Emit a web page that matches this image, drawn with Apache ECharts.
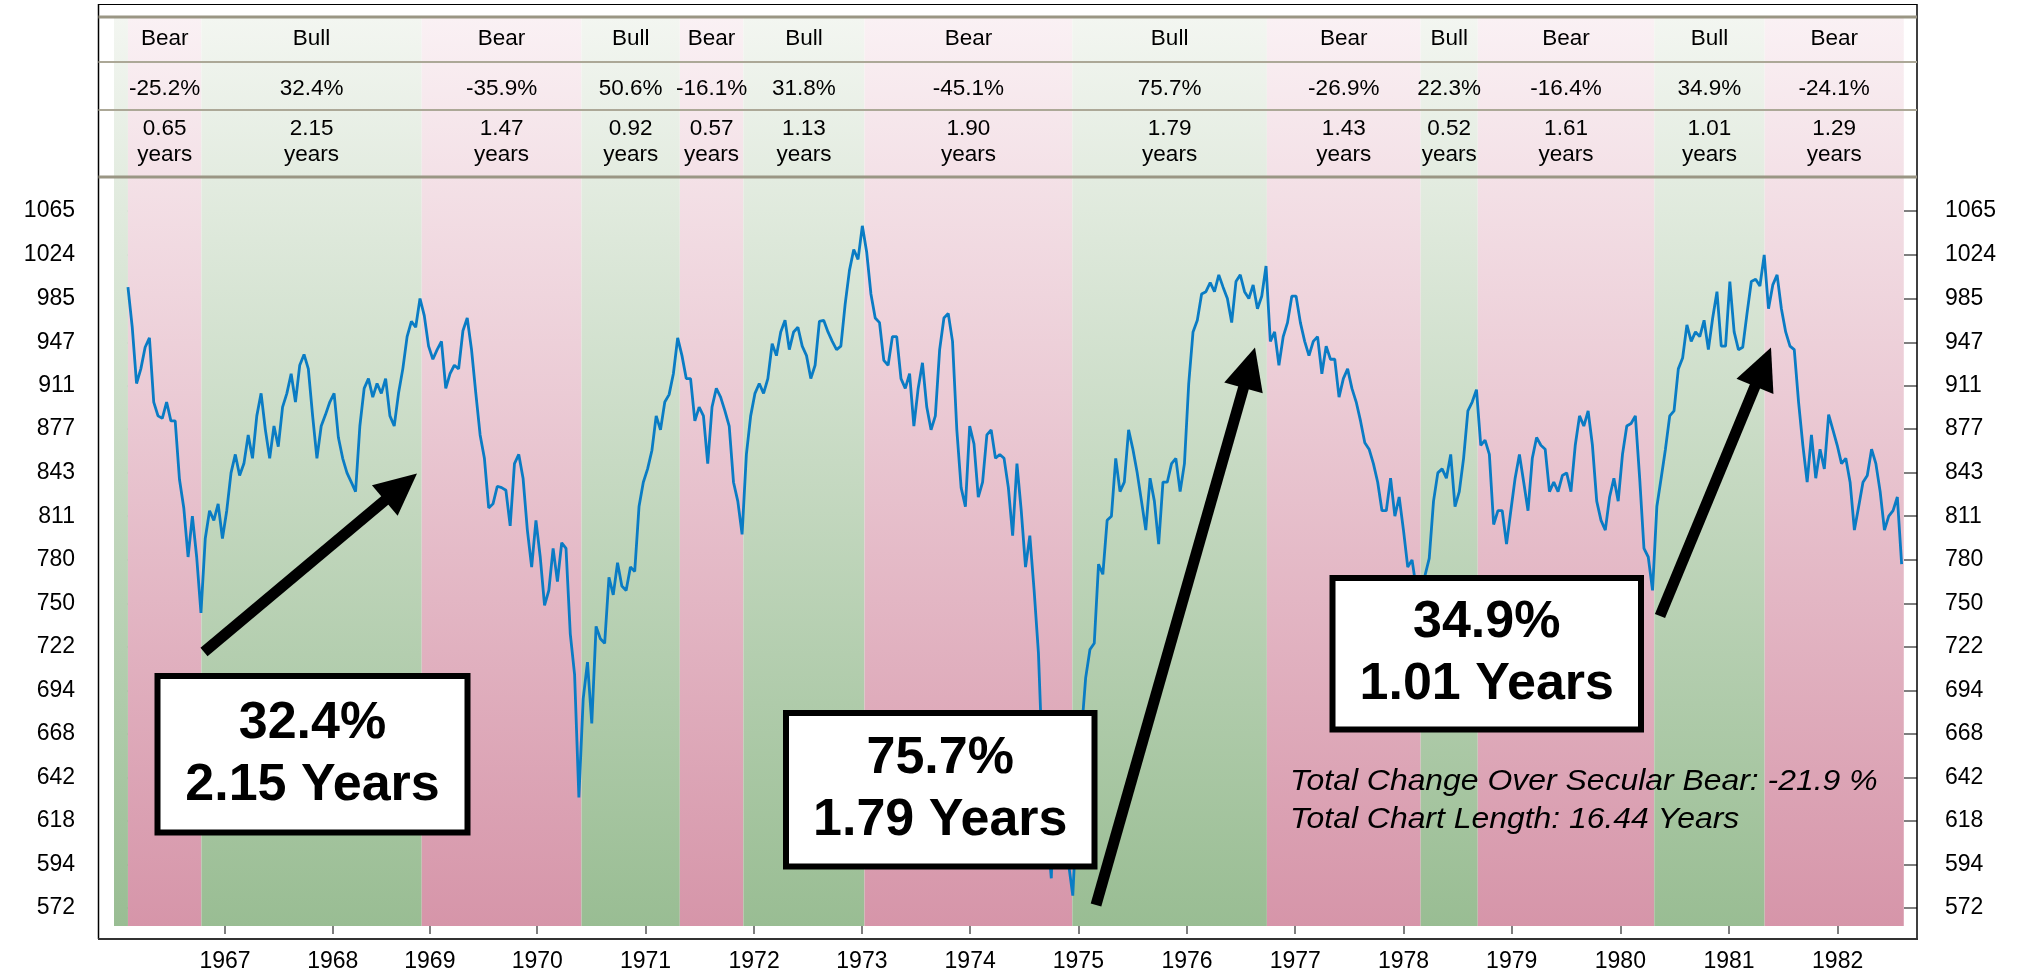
<!DOCTYPE html>
<html>
<head>
<meta charset="utf-8">
<script src="https://cdn.jsdelivr.net/npm/echarts@6/dist/echarts.min.js"></script>
<style>html,body{margin:0;padding:0;background:#fff}#c{width:2018px;height:975px}</style>
</head>
<body>
<div id="c"></div>
<script>
// ---------------- DATA ----------------
// x axis runs in trading sessions (NYSE closed on Wednesdays in late 1968)
const years    = [1966,1967,1968,1969,1970,1971,1972,1973,1974,1975,1976,1977,1978,1979,1980,1981,1982];
const yearDays = [252, 251, 226, 250, 252, 253, 251, 252, 252, 253, 252, 252, 252, 253, 253, 253, 253];
const startSession = 26;   // 1966-02-09, Dow peak 995
const stepSessions = 10;   // one reading every 10 sessions
const dow = [
 995,960,913,925,943,951,898,887,885,898,883,883,838,817,782,811,782,744,795,815,
 808,820,795,815,843,857,841,850,872,854,887,905,876,854,879,863,894,905,921,898,
 928,937,925,887,854,879,888,898,905,870,854,843,836,829,879,909,917,902,913,905,
 917,887,879,905,925,952,965,960,985,970,944,933,941,948,909,921,928,925,957,968,
 941,905,872,854,817,820,833,832,830,804,850,857,839,801,775,808,782,749,759,788,
 765,792,788,730,704,631,689,712,674,735,727,724,768,756,778,762,759,775,772,818,
 836,846,860,887,876,898,904,921,951,936,917,917,883,894,887,850,894,909,902,891,
 879,836,822,798,857,887,905,913,905,917,946,936,956,966,941,956,960,944,936,917,
 928,965,966,956,948,941,944,980,1010,1029,1020,1051,1027,989,968,964,932,928,952,952,
 917,909,921,879,909,930,894,876,887,941,968,972,948,876,832,818,879,865,825,836,
 872,876,854,857,854,832,797,850,815,775,797,759,718,647,615,587,660,640,610,595,
 578,625,668,702,720,724,777,770,808,811,854,829,836,876,861,843,822,801,839,822,
 791,836,836,850,854,829,850,913,956,966,989,991,999,991,1006,995,985,964,1000,1006,
 991,985,997,976,987,1014,948,956,928,952,964,987,987,964,948,936,948,952,921,944,
 933,933,902,917,925,909,898,883,866,861,850,836,815,815,839,811,825,801,775,780,
 760,742,769,781,822,843,846,839,857,818,829,854,891,898,908,864,868,857,805,815,
 815,791,815,839,857,836,815,854,870,864,861,829,836,829,841,843,829,864,887,879,
 891,864,822,808,801,825,839,822,857,879,881,887,839,788,782,759,818,839,861,887,
 891,925,934,962,948,956,952,966,941,968,991,944,944,1000,956,941,943,972,1000,1002,
 996,1024,976,997,1006,976,956,944,941,898,864,836,872,839,861,846,888,876,864,850,
 854,836,801,818,836,841,861,850,829,801,811,815,825,777
];
// cyclical phases: sessions from the start at which each phase ends
const phaseNames  = ['Bear','Bull','Bear','Bull','Bear','Bull','Bear','Bull','Bear','Bull','Bear','Bull','Bear'];
const phaseChange = ['-25.2%','32.4%','-35.9%','50.6%','-16.1%','31.8%','-45.1%','75.7%','-26.9%','22.3%','-16.4%','34.9%','-24.1%'];
const phaseYears  = ['0.65','2.15','1.47','0.92','0.57','1.13','1.90','1.79','1.43','0.52','1.61','1.01','1.29'];
const phaseEnds   = [171, 684, 1056, 1285, 1433, 1715, 2199, 2652, 3010, 3143, 3554, 3811, 4135];
const yTickLabels = [572,594,618,642,668,694,722,750,780,811,843,877,911,947,985,1024,1065];
const callouts = [
  {pct:'32.4%', yrs:'2.15 Years'},
  {pct:'75.7%', yrs:'1.79 Years'},
  {pct:'34.9%', yrs:'1.01 Years'}
];
const footLines = ['Total Change Over Secular Bear: -21.9 %', 'Total Chart Length: 16.44 Years'];

// ---------------- CHART ----------------
const F = "'Liberation Sans', Arial, Helvetica, sans-serif";
const yearStarts = [];
{ let acc = 0; for (let k = 0; k < years.length; k++) { if (k > 0) yearStarts.push(acc); acc += yearDays[k]; } }
const yearLabel = v => { let best = 0, bd = 1e9; yearStarts.forEach((s, k) => { const d = Math.abs(s - v); if (d < bd) { bd = d; best = k; } }); return String(years[best + 1]); };

const xMin = -6.5, xMax = startSession + phaseEnds[phaseEnds.length - 1] + 0.5;
const yMin = 6.33245, yMax = 7.14391;
const yTicks = yTickLabels.map(v => Math.log(v));

const grad = (top, bottom) => ({type:'linear', x:0, y:0, x2:0, y2:1,
  colorStops:[{offset:0, color:top}, {offset:1, color:bottom}]});
const BULL = grad('#f3f6f1', '#99bd93');
const BEAR = grad('#faf1f4', '#d695a9');

const HF = 22.5;
const headRich = {
  a:{fontSize:HF, lineHeight:44, fontFamily:F, color:'#000'},
  b:{fontSize:HF, lineHeight:56, fontFamily:F, color:'#000'},
  c:{fontSize:HF, lineHeight:24, fontFamily:F, color:'#000'},
  d:{fontSize:HF, lineHeight:28, fontFamily:F, color:'#000'}
};
const bands = [[{xAxis:xMin, itemStyle:{color:BULL}}, {xAxis:startSession}]];
let prev = startSession;
phaseNames.forEach((nm, k) => {
  const end = startSession + phaseEnds[k];
  bands.push([{
    xAxis: prev,
    itemStyle:{color: nm === 'Bear' ? BEAR : BULL},
    label:{show:true, position:'insideTop', distance:0, padding:0,
      formatter:'{a|' + nm + '}\n{b|' + phaseChange[k] + '}\n{c|' + phaseYears[k] + '}\n{d|years}',
      rich:headRich, align:'center'}
  }, {xAxis: end}]);
  prev = end;
});

const lineData = dow.map((v, i) => [startSession + i * stepSessions, Math.log(v)]);

const yAxisBase = (pos, off, margin) => ({
  type:'value', min:yMin, max:yMax, position:pos, offset:off,
  axisLine:{show:false}, splitLine:{show:false},
  axisTick:{show:true, inside:true, length:13, customValues:yTicks, lineStyle:{color:'#555', width:1.5}},
  axisLabel:{show:true, customValues:yTicks, margin:margin, fontSize:23, color:'#000', fontFamily:F,
    formatter: v => String(Math.round(Math.exp(v)))}
});

function arrow(tail, tip, w, hl, hw) {
  const dx = tip[0]-tail[0], dy = tip[1]-tail[1], L = Math.hypot(dx, dy), ux = dx/L, uy = dy/L;
  const bx = tip[0]-ux*hl, by = tip[1]-uy*hl, px = -uy, py = ux;
  return [
    {type:'line', z:100, shape:{x1:tail[0], y1:tail[1], x2:bx+ux*3, y2:by+uy*3}, style:{stroke:'#000', lineWidth:w, lineCap:'butt'}},
    {type:'polygon', z:100, shape:{points:[tip, [bx+px*hw, by+py*hw], [bx-px*hw, by-py*hw]]}, style:{fill:'#000'}}
  ];
}
function box(x0, y0, x1, y1, c) {
  const cx = (x0 + x1) / 2, cy = (y0 + y1) / 2;
  return [
    {type:'rect', z:100, shape:{x:x0+3, y:y0+3, width:x1-x0-6, height:y1-y0-6}, style:{fill:'#fff', stroke:'#000', lineWidth:6}},
    {type:'text', z:101, style:{text:c.pct, x:cx, y:cy-31, align:'center', verticalAlign:'middle', font:'bold 52px ' + F, fill:'#000'}},
    {type:'text', z:101, style:{text:c.yrs, x:cx, y:cy+31, align:'center', verticalAlign:'middle', font:'bold 52px ' + F, fill:'#000'}}
  ];
}
const gline = (x1, y1, x2, y2, color, w) => ({type:'line', z:100, shape:{x1, y1, x2, y2}, style:{stroke:color, lineWidth:w}});
const foot = (txt, y) => ({type:'text', z:101, x:1290, y:y, scaleX:1.1, scaleY:1,
  style:{text:txt, x:0, y:0, align:'left', verticalAlign:'middle', font:'italic 29px ' + F, fill:'#000'}});

const graphics = [].concat(
  [
    gline(98.5, 4.5, 1917, 4.5, '#000', 1.2),
    gline(98.5, 4, 98.5, 939, '#000', 1.5),
    gline(1917, 4, 1917, 939, '#000', 1.5),
    gline(98, 939, 1918, 939, '#333', 2.2),
    gline(98.5, 17, 1917, 17, '#9a9684', 3),
    gline(98.5, 62, 1917, 62, '#aca897', 2),
    gline(98.5, 110, 1917, 110, '#aca897', 2),
    gline(98.5, 177, 1917, 177, '#9a9684', 3)
  ],
  arrow([204, 652], [417, 473.5], 11, 42, 20),
  arrow([1096, 905], [1255, 347.5], 11, 42, 20),
  arrow([1660, 616], [1771, 347.5], 11, 42, 20),
  box(154.5, 673, 470.5, 835.5, callouts[0]),
  box(783, 710, 1097.5, 869.5, callouts[1]),
  box(1329.5, 575, 1644, 732.5, callouts[2]),
  [foot(footLines[0], 782), foot(footLines[1], 820)]
);

const chart = echarts.init(document.getElementById('c'), null, {renderer:'canvas', width:2018, height:975});
chart.setOption({
  animation:false,
  backgroundColor:'#fff',
  textStyle:{fontFamily:F},
  grid:{left:114, right:114, top:17, bottom:49, containLabel:false},
  xAxis:{
    type:'value', min:xMin, max:xMax,
    axisLine:{show:false}, splitLine:{show:false},
    axisTick:{show:true, length:8, customValues:yearStarts, lineStyle:{color:'#555', width:1.5}},
    axisLabel:{show:true, customValues:yearStarts, margin:24, fontSize:23, color:'#000', fontFamily:F, formatter:yearLabel}
  },
  yAxis:[yAxisBase('left', 15, 24), yAxisBase('right', 13, 28)],
  series:[{
    type:'line', data:lineData, showSymbol:false, symbol:'none', z:3,
    lineStyle:{color:'#0a7cc4', width:2.8}, silent:true,
    markArea:{silent:true, z:1, data:bands}
  }],
  graphic:graphics
});
</script>
</body>
</html>
